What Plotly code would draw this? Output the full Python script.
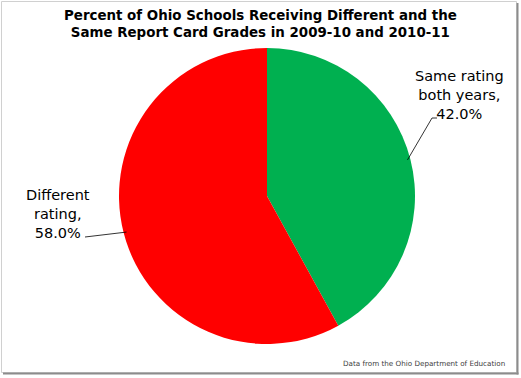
import math
import plotly.graph_objects as go

labels = ["Same rating both years", "Different rating"]
values = [42.0, 58.0]
colors = ["#00B050", "#FF0000"]
label_lines = [["Same rating", "both years,", "42.0%"], ["Different", "rating,", "58.0%"]]
title_lines = ["Percent of Ohio Schools Receiving Different and the",
               "Same Report Card Grades in 2009-10 and 2010-11"]
source_text = "Data from the Ohio Department of Education"

W, H = 521, 378
cx, cy, r = 267, 196, 148

def px(x):
    return x / W

def py(y):
    return 1 - y / H

fig = go.Figure(go.Pie(
    labels=labels, values=values, sort=False, direction="clockwise", rotation=0,
    marker=dict(colors=colors, line=dict(width=0)),
    textinfo="none", hoverinfo="label+percent", showlegend=False,
    domain=dict(x=[px(cx - r), px(cx + r)], y=[py(cy + r), py(cy - r)]),
))

# leader-line anchor points computed from slice midpoints
total = sum(values)
cum = 0
anchors = []
for v in values:
    mid = (cum + v / 2) / total * 2 * math.pi
    cum += v
    anchors.append((cx + r * math.sin(mid) * 0.98, cy - r * math.cos(mid) * 0.98))

shapes = []
ax0, ay0 = anchors[0]
shapes.append(dict(type="path", xref="paper", yref="paper",
                   path=f"M {px(ax0)},{py(ay0)} L {px(432)},{py(118)} L {px(437)},{py(118)}",
                   line=dict(color="#000000", width=0.8)))
ax1, ay1 = anchors[1]
shapes.append(dict(type="path", xref="paper", yref="paper",
                   path=f"M {px(ax1)},{py(ay1)} L {px(85)},{py(237)}",
                   line=dict(color="#000000", width=0.8)))
# border
shapes.append(dict(type="rect", xref="paper", yref="paper",
                   x0=px(1.5), y0=py(372.5), x1=px(516.5), y1=py(1.5),
                   line=dict(color="#d0d0d0", width=1)))
shapes.append(dict(type="line", xref="paper", yref="paper",
                   x0=px(517.5), y0=py(3), x1=px(517.5), y1=py(374.5),
                   line=dict(color="#8c8c8c", width=2)))
shapes.append(dict(type="line", xref="paper", yref="paper",
                   x0=px(3), y0=py(373.5), x1=px(518.5), y1=py(373.5),
                   line=dict(color="#8c8c8c", width=2)))

font_family = "DejaVu Sans, Verdana, sans-serif"
annotations = [
    dict(text="<b>" + "<br>".join(title_lines) + "</b>", xref="paper", yref="paper",
         x=px(260), y=py(24), xanchor="center", yanchor="middle", showarrow=False,
         font=dict(family=font_family, size=13.4, color="#000000")),
    dict(text="<br>".join(label_lines[0]), xref="paper", yref="paper",
         x=px(459), y=py(95), xanchor="center", yanchor="middle", showarrow=False,
         font=dict(family=font_family, size=14.5, color="#000000")),
    dict(text="<br>".join(label_lines[1]), xref="paper", yref="paper",
         x=px(58), y=py(214), xanchor="center", yanchor="middle", showarrow=False,
         font=dict(family=font_family, size=14.5, color="#000000")),
    dict(text=source_text, xref="paper", yref="paper",
         x=px(507), y=py(363), xanchor="right", yanchor="middle", showarrow=False,
         font=dict(family=font_family, size=7.2, color="#404040")),
]

fig.update_layout(width=W, height=H, margin=dict(l=0, r=0, t=0, b=0),
                  paper_bgcolor="white", plot_bgcolor="white",
                  shapes=shapes, annotations=annotations)

fig.write_html("out.html", config={"displayModeBar": False},
               post_script="document.body.style.margin='0px';document.body.style.overflow='hidden';")
